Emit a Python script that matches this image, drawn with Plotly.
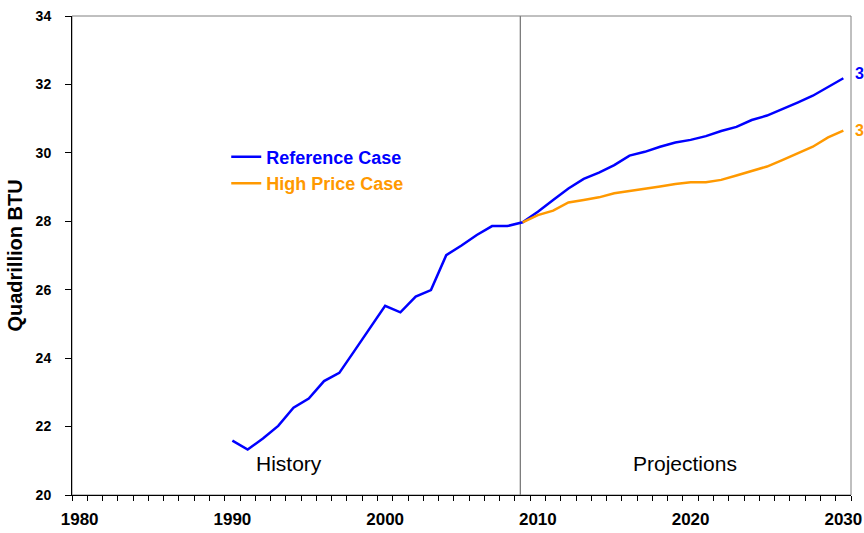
import plotly.graph_objects as go

# ---- data ----
years_ref = list(range(1990, 2031))
ref_case = [21.59, 21.33, 21.65, 22.02, 22.55, 22.82, 23.33, 23.57, 24.22, 24.89,
            25.53, 25.34, 25.80, 25.99, 27.01, 27.29, 27.60, 27.86, 27.86, 27.97,
            28.28, 28.62, 28.96, 29.24, 29.42, 29.64, 29.92, 30.03, 30.18, 30.30,
            30.38, 30.49, 30.64, 30.76, 30.96, 31.09, 31.27, 31.47, 31.67, 31.93, 32.18]
years_high = list(range(2009, 2031))
high_price = [27.97, 28.18, 28.31, 28.55, 28.62, 28.70, 28.82, 28.88, 28.95, 29.02,
              29.09, 29.14, 29.14, 29.21, 29.34, 29.47, 29.60, 29.79, 29.99, 30.18,
              30.45, 30.65]
x_tick_vals = [1980, 1990, 2000, 2010, 2020, 2030]
y_tick_vals = [20, 22, 24, 26, 28, 30, 32, 34]
divider_year = 2008.85
end_labels = ["3", "3"]  # only the first character is visible at the right edge

BLUE = "#0000FF"
ORANGE = "#FF9900"
FONT = "Liberation Sans, Arial, sans-serif"

fig = go.Figure()
fig.add_trace(go.Scatter(
    x=years_ref, y=ref_case, mode="lines",
    name="<span style='color:%s'><b>Reference Case</b></span>" % BLUE,
    line=dict(color=BLUE, width=2.5)))
fig.add_trace(go.Scatter(
    x=years_high, y=high_price, mode="lines",
    name="<span style='color:%s'><b>High Price Case</b></span>" % ORANGE,
    line=dict(color=ORANGE, width=2.5)))

# divider between history and projections
fig.add_shape(type="line", xref="x", yref="paper", x0=divider_year, x1=divider_year,
              y0=0, y1=1, line=dict(color="#707070", width=1.2), layer="below")
# plot-area border
fig.add_shape(type="rect", xref="paper", yref="paper", x0=0, x1=1, y0=0, y1=1,
              line=dict(color="#808080", width=1), layer="below")

fig.add_annotation(x=1993.7, y=20.93, xref="x", yref="y", text="History",
                   showarrow=False, font=dict(family=FONT, size=21, color="black"))
fig.add_annotation(x=2019.6, y=20.93, xref="x", yref="y", text="Projections",
                   showarrow=False, font=dict(family=FONT, size=21, color="black"))

fig.add_annotation(x=1.002, y=ref_case[-1] + 0.15, xref="paper", yref="y",
                   text="<b>%s</b>" % end_labels[0], showarrow=False, xanchor="left",
                   font=dict(family=FONT, size=16, color=BLUE))
fig.add_annotation(x=1.002, y=high_price[-1], xref="paper", yref="y",
                   text="<b>%s</b>" % end_labels[1], showarrow=False, xanchor="left",
                   font=dict(family=FONT, size=16, color=ORANGE))

fig.update_layout(
    width=864, height=533,
    margin=dict(l=72, r=13, t=16, b=38),
    paper_bgcolor="white", plot_bgcolor="white",
    font=dict(family=FONT, color="black"),
    showlegend=True,
    legend=dict(x=0.198, y=0.744, xanchor="left", yanchor="top",
                bgcolor="rgba(0,0,0,0)", font=dict(family=FONT, size=18),
                tracegroupgap=0),
    xaxis=dict(range=[1979.5, 2030.5], tickmode="array", tickvals=x_tick_vals,
               ticktext=["<b>%d</b>" % v for v in x_tick_vals],
               ticks="", showgrid=False, zeroline=False, automargin=False,
               showline=True, linecolor="black", linewidth=1,
               ticklabelstandoff=9,
               tickfont=dict(family=FONT, size=17, color="black"),
               minor=dict(tickmode="linear", tick0=1979.5, dtick=1, ticks="outside",
                          ticklen=5, tickcolor="black", tickwidth=1, showgrid=False)),
    yaxis=dict(range=[20, 34], tickmode="array", tickvals=y_tick_vals,
               ticktext=["<b>%d</b>" % v for v in y_tick_vals],
               ticks="outside", ticklen=6, tickcolor="black", showgrid=False,
               automargin=False, ticklabelstandoff=11,
               zeroline=False, showline=True, linecolor="black", linewidth=1,
               tickfont=dict(family=FONT, size=14, color="black"),
               title=dict(text="<b>Quadrillion BTU</b>", standoff=7,
                          font=dict(family=FONT, size=20, color="black"))),
)

fig.write_html("out.html", config={"displayModeBar": False},
               post_script="document.body.style.margin='0';")
